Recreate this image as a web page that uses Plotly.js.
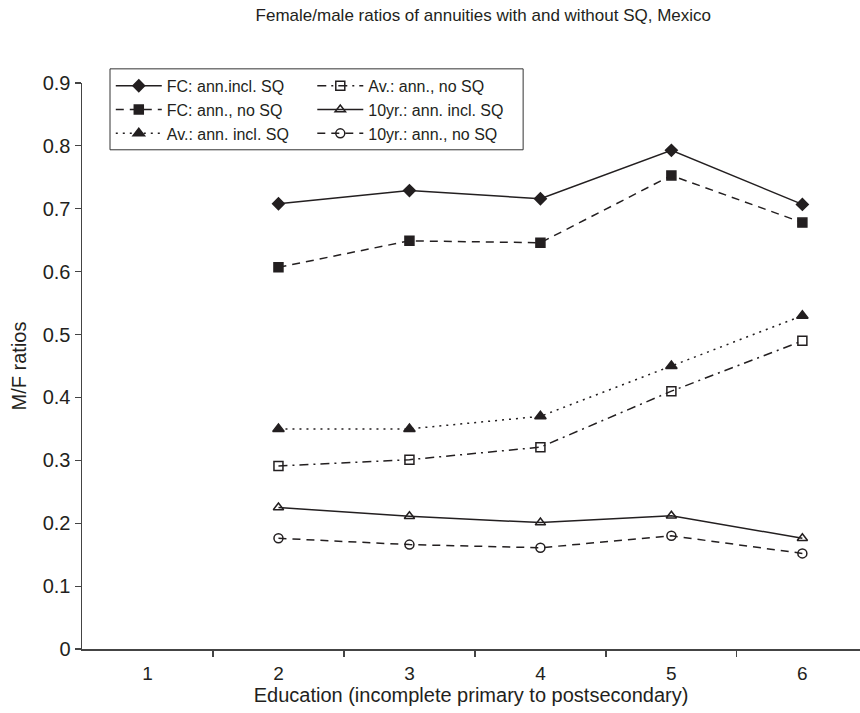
<!DOCTYPE html>
<html>
<head>
<meta charset="utf-8">
<script src="https://cdn.plot.ly/plotly-3.0.1.min.js"></script>
<style>html,body{margin:0;padding:0;background:#fff;}</style>
</head>
<body>
<div id="chart" style="width:860px;height:713px;"></div>
<script>
// Education categories (1 = incomplete primary ... 6 = postsecondary)
const categories = [1, 2, 3, 4, 5, 6];
const tickLabels = ["1", "2", "3", "4", "5", "6"];
const seriesX = [2, 3, 4, 5, 6];

const fcInclSQ   = [0.708, 0.729, 0.716, 0.793, 0.707];
const fcNoSQ     = [0.607, 0.649, 0.646, 0.753, 0.678];
const avInclSQ   = [0.350, 0.350, 0.370, 0.450, 0.530];
const avNoSQ     = [0.291, 0.301, 0.321, 0.410, 0.490];
const tenInclSQ  = [0.225, 0.211, 0.201, 0.212, 0.176];
const tenNoSQ    = [0.176, 0.166, 0.161, 0.180, 0.152];

const seriesNames = [
  "FC: ann.incl. SQ", "FC: ann., no SQ", "Av.: ann. incl. SQ",
  "Av.: ann., no SQ", "10yr.: ann. incl. SQ", "10yr.: ann., no SQ"
];

const ink = "#231f20";
const font = "Liberation Sans, Arial, Helvetica, sans-serif";

function tr(y, name, dash, symbol, size, legend) {
  return {
    type: "scatter", mode: "lines+markers", x: seriesX, y: y, name: name,
    legend: legend,
    line: {color: ink, width: 1.5, dash: dash},
    marker: {symbol: symbol, size: size, color: ink,
             line: {color: ink, width: 1.5}},
    hoverinfo: "skip"
  };
}

const data = [
  tr(fcInclSQ,  seriesNames[0], "solid", "diamond", 9, "legend"),
  tr(fcNoSQ,    seriesNames[1], "8px,6px", "square", 9, "legend"),
  tr(avInclSQ,  seriesNames[2], "2px,5px", "triangle-up", 10, "legend"),
  tr(avNoSQ,    seriesNames[3], "9px,5px,2px,5px", "square-open", 9, "legend2"),
  tr(tenInclSQ, seriesNames[4], "solid", "triangle-up-open", 9, "legend2"),
  tr(tenNoSQ,   seriesNames[5], "8px,6px", "circle-open", 9, "legend2")
];

const legendCommon = {
  orientation: "v", yanchor: "top", xanchor: "left",
  bgcolor: "rgba(0,0,0,0)", borderwidth: 0,
  font: {family: font, size: 16, color: ink},
  tracegroupgap: 0, itemwidth: 46
};

const layout = {
  width: 860, height: 713,
  margin: {l: 82, r: 0, t: 83, b: 64},
  paper_bgcolor: "#fff", plot_bgcolor: "#fff",
  font: {family: font, color: ink},
  title: {
    text: "Female/male ratios of annuities with and without SQ, Mexico",
    font: {family: font, size: 17, color: ink},
    x: 0.562, xanchor: "center", xref: "container",
    y: 0.979, yanchor: "middle", yref: "container"
  },
  xaxis: {
    range: [0.5, 6.44],
    tickmode: "array", tickvals: categories, ticktext: tickLabels,
    ticks: "", showgrid: false, zeroline: false,
    showline: true, linecolor: "#444", linewidth: 1.5,
    tickfont: {family: font, size: 19, color: ink},
    ticklabelstandoff: 7,
    minor: {tickmode: "array", tickvals: [1.5, 2.5, 3.5, 4.5, 5.5],
            ticks: "outside", ticklen: 6, tickcolor: "#444", tickwidth: 1.2,
            showgrid: false},
    title: {text: "Education (incomplete primary to postsecondary)",
            font: {family: font, size: 20, color: ink}, standoff: 1},
    fixedrange: true
  },
  yaxis: {
    range: [0, 0.9], dtick: 0.1, tick0: 0,
    ticks: "outside", ticklen: 6, tickcolor: "#444", tickwidth: 1.2,
    showgrid: false, zeroline: false,
    showline: true, linecolor: "#444", linewidth: 1.5,
    tickfont: {family: font, size: 20, color: ink},
    title: {text: "M/F ratios", font: {family: font, size: 20, color: ink}, standoff: 10},
    fixedrange: true
  },
  legend: Object.assign({x: 0.037, y: 1.025}, legendCommon),
  legend2: Object.assign({x: 0.296, y: 1.025}, legendCommon),
  shapes: [{
    type: "rect", xref: "paper", yref: "paper",
    x0: 0.036, x1: 0.567, y0: 0.882, y1: 1.025,
    line: {color: "#333", width: 1}, fillcolor: "rgba(0,0,0,0)"
  }],
  showlegend: true
};

Plotly.newPlot("chart", data, layout, {displayModeBar: false, staticPlot: true});
</script>
</body>
</html>
